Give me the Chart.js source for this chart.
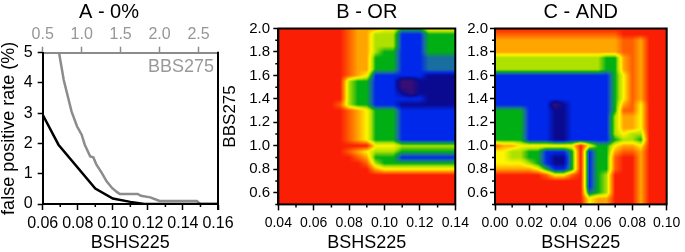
<!DOCTYPE html>
<html>
<head>
<meta charset="utf-8">
<script src="https://cdn.jsdelivr.net/npm/chart.js@4.4.1/dist/chart.umd.min.js"></script>
<style>
  html, body { margin: 0; padding: 0; background: #fff; }
  #wrap { position: relative; width: 685px; height: 252px; }
  #wrap canvas { position: absolute; left: 0; top: 0; }
</style>
</head>
<body>
<div id="wrap">
  <canvas id="fprChart" width="685" height="252"></canvas>
  <canvas id="orChart" width="685" height="252"></canvas>
  <canvas id="andChart" width="685" height="252"></canvas>
</div>
<script>
const FONT = "'Liberation Sans', Arial, Helvetica, sans-serif";
const GRAY = '#8c8c8c';

// A - false positive rate vs threshold
const bshsThreshold = [0.06, 0.069, 0.09, 0.10, 0.11, 0.118, 0.16];
const bshsFpr = [2.95, 1.96, 0.51, 0.18, 0.07, 0.0, 0.0];
const bbsThreshold = [0.71, 0.77, 0.87, 0.94, 1.00, 1.04, 1.11, 1.15, 1.19, 1.26, 1.32, 1.39,
  1.45, 1.49, 1.72, 1.76, 1.88, 1.96, 2.00, 2.48, 2.52, 2.75];
const bbsFpr = [5.0, 4.1, 3.06, 2.57, 2.29, 1.96, 1.57, 1.54, 1.3, 1.02, 0.75, 0.53,
  0.4, 0.33, 0.33, 0.27, 0.22, 0.14, 0.1, 0.1, 0.0, 0.0];

// B / C - heatmap grids, level 0 (dark) .. 9 (red)
const bbsNodes = [2.00, 1.95, 1.90, 1.85, 1.80, 1.75, 1.70, 1.65, 1.60, 1.55, 1.50, 1.45, 1.40,
  1.35, 1.30, 1.25, 1.20, 1.15, 1.10, 1.05, 1.00, 0.95, 0.90, 0.85, 0.80, 0.75, 0.70, 0.65,
  0.60, 0.55, 0.50];
const orBshs = [0.040, 0.045, 0.050, 0.055, 0.060, 0.065, 0.070, 0.075, 0.080, 0.085, 0.090,
  0.095, 0.100, 0.105, 0.110, 0.115, 0.120, 0.125, 0.130, 0.135, 0.140];
const orLevels = [
  '999999998777664446666',
  '999999998775552224444',
  '999999998775552224444',
  '999999998775552224444',
  '999999998775442224444',
  '999999998774442223333',
  '999999998774442223333',
  '999999998774442223333',
  '999999998762222221111',
  '999999995442220011111',
  '999999995442220011111',
  '999999995442221011111',
  '999999995442222221111',
  '999999985442221111111',
  '999999998764442222222',
  '999999998764442222222',
  '999999998764442222222',
  '999999998764442222222',
  '999999998764442222222',
  '999999998764442222222',
  '999999999996665555555',
  '999999998765554444444',
  '999999999874442222222',
  '999999999985444444444',
  '999999999997666666666',
  '999999999999999999999',
  '999999999999999999999',
  '999999999999999999999',
  '999999999999999999999',
  '999999999999999999999',
  '999999999999999999999'
];
const andBshs = [0.000, 0.005, 0.010, 0.015, 0.020, 0.025, 0.030, 0.035, 0.040, 0.045, 0.050,
  0.055, 0.060, 0.065, 0.070, 0.075, 0.080, 0.085, 0.090, 0.095, 0.100];
const andLevels = [
  '999999999999999999999',
  '888888888888888999999',
  '777777777777777887999',
  '777777777777777887999',
  '777777777777777887999',
  '555555555555544787999',
  '555555555555544787999',
  '555555555555544787999',
  '222222222222224687999',
  '222222222222224687999',
  '222222222222224687999',
  '222222222222224687999',
  '222222222222224687999',
  '222222201222224786999',
  '444422211222224886999',
  '444422211222225776999',
  '444422211222225776999',
  '444422211222225776999',
  '444422211222225655999',
  '444422211222224554999',
  '877666666696446776999',
  '665544222492447887999',
  '665544211492448997999',
  '666654211492448997999',
  '777776422492448997999',
  '999999866892459997999',
  '999999999992459997999',
  '999999999992459997999',
  '999999999993459997999',
  '999999999996779997999',
  '999999999996779997999'
];

const heatColors = [
  [55, 15, 115], [10, 10, 145], [0, 40, 235], [25, 110, 160], [0, 175, 20],
  [175, 225, 0], [255, 245, 0], [255, 165, 0], [255, 95, 0], [250, 30, 5]
];

function levelColor(v) {
  const i = Math.min(heatColors.length - 2, Math.floor(v));
  const t = v - i;
  const a = heatColors[i], b = heatColors[i + 1];
  return [a[0] + (b[0] - a[0]) * t, a[1] + (b[1] - a[1]) * t, a[2] + (b[2] - a[2]) * t];
}

function locate(nodes, v) {
  const n = nodes.length;
  const asc = nodes[n - 1] > nodes[0];
  for (let i = 0; i < n - 1; i++) {
    const a = nodes[i], b = nodes[i + 1];
    if ((asc && v <= b) || (!asc && v >= b)) {
      return i + Math.min(1, Math.max(0, (v - a) / (b - a)));
    }
  }
  return n - 1;
}

function makeHeatmap(xNodes, yNodes, rows) {
  const grid = rows.map(r => r.split('').map(Number));
  return {
    id: 'heatmap',
    beforeDatasetsDraw(chart) {
      const {ctx, chartArea: a, scales} = chart;
      const w = Math.round(a.right - a.left), h = Math.round(a.bottom - a.top);
      const off = document.createElement('canvas');
      off.width = w; off.height = h;
      const octx = off.getContext('2d');
      const img = octx.createImageData(w, h);
      const fx = [], fy = [];
      for (let px = 0; px < w; px++) fx.push(locate(xNodes, scales.x.getValueForPixel(a.left + px + 0.5)));
      for (let py = 0; py < h; py++) fy.push(locate(yNodes, scales.y.getValueForPixel(a.top + py + 0.5)));
      for (let py = 0; py < h; py++) {
        const j0 = Math.floor(fy[py]), j1 = Math.min(j0 + 1, yNodes.length - 1), ty = fy[py] - j0;
        for (let px = 0; px < w; px++) {
          const i0 = Math.floor(fx[px]), i1 = Math.min(i0 + 1, xNodes.length - 1), tx = fx[px] - i0;
          const top = grid[j0][i0] * (1 - tx) + grid[j0][i1] * tx;
          const bot = grid[j1][i0] * (1 - tx) + grid[j1][i1] * tx;
          const c = levelColor(top * (1 - ty) + bot * ty);
          const k = (py * w + px) * 4;
          img.data[k] = c[0]; img.data[k + 1] = c[1]; img.data[k + 2] = c[2]; img.data[k + 3] = 255;
        }
      }
      octx.putImageData(img, 0, 0);
      ctx.drawImage(off, a.left, a.top);
    }
  };
}

// frame lines, minor ticks and the inner BBS275 label
const framePlugin = {
  id: 'frame',
  afterDraw(chart, args, opts) {
    const {ctx, chartArea: a} = chart;
    ctx.save();
    ctx.strokeStyle = '#000';
    ctx.lineWidth = 2;
    if (opts.box) {
      ctx.strokeRect(a.left, a.top, a.right - a.left, a.bottom - a.top);
    } else {
      ctx.beginPath();
      ctx.moveTo(a.right, a.top - 1);
      ctx.lineTo(a.right, a.bottom + 6);
      ctx.stroke();
    }
    ctx.lineWidth = 1.5;
    (opts.minor || []).forEach(m => {
      const s = chart.scales[m.id];
      ctx.beginPath();
      for (let v = m.from; v < s.max + 1e-9; v += m.step) {
        const p = s.getPixelForValue(v);
        if (s.isHorizontal()) { ctx.moveTo(p, a.bottom); ctx.lineTo(p, a.bottom + 3); }
        else { ctx.moveTo(a.left - 3, p); ctx.lineTo(a.left, p); }
      }
      ctx.stroke();
    });
    if (opts.label) {
      ctx.fillStyle = '#999';
      ctx.font = '18px ' + FONT;
      ctx.textAlign = 'right';
      ctx.textBaseline = 'middle';
      ctx.fillText(opts.label, a.right - 4, a.top + 14);
    }
    ctx.restore();
  }
};

function fixWidth(w) { return scale => { scale.width = w; }; }
function fixHeight(h) { return scale => { scale.height = h; }; }

function titleOpts(text, fullSize, bottom) {
  return {
    display: true, text: text, color: '#000', fullSize: fullSize,
    font: { family: FONT, size: 20, weight: 'normal', lineHeight: 1.2 },
    padding: { top: 0, bottom: bottom }
  };
}

function axisTitle(text, size) {
  return { display: true, text: text, color: '#000',
    font: { family: FONT, size: size, lineHeight: 1 }, padding: { top: 0, bottom: 0 } };
}

// Panel A
new Chart(document.getElementById('fprChart'), {
  type: 'line',
  data: {
    datasets: [
      {
        label: 'BSHS225',
        data: bshsThreshold.map((x, i) => ({ x: x, y: bshsFpr[i] })),
        xAxisID: 'x', borderColor: '#000', borderWidth: 2.5, pointRadius: 0
      },
      {
        label: 'BBS275',
        data: bbsThreshold.map((x, i) => ({ x: x, y: bbsFpr[i] })),
        xAxisID: 'x2', borderColor: GRAY, borderWidth: 2.5, pointRadius: 0
      }
    ]
  },
  options: {
    responsive: false, animation: false, devicePixelRatio: 1,
    layout: { padding: { left: 0, right: 467, top: 0, bottom: 0 } },
    plugins: {
      legend: { display: false }, tooltip: { enabled: false },
      title: titleOpts('A - 0%', true, 0),
      frame: { box: false, label: 'BBS275', minor: [{ id: 'x', from: 0.07, step: 0.02 }] }
    },
    scales: {
      x: {
        type: 'linear', position: 'bottom', min: 0.06, max: 0.16, afterFit: fixHeight(48),
        border: { color: '#000', width: 2 },
        grid: { drawOnChartArea: false, tickLength: 6, tickColor: '#000', tickWidth: 1.5 },
        ticks: { stepSize: 0.02, padding: 4, color: '#000', maxRotation: 0, autoSkip: false,
          font: { family: FONT, size: 16 }, callback: v => v.toFixed(2) },
        title: axisTitle('BSHS225', 18)
      },
      x2: {
        type: 'linear', position: 'top', min: 0.5, max: 2.75, afterFit: fixHeight(28.7),
        border: { color: GRAY, width: 2 },
        grid: { drawOnChartArea: false, tickLength: 6, tickColor: GRAY, tickWidth: 1.5 },
        ticks: { stepSize: 0.5, includeBounds: false, padding: 3, color: '#969696', maxRotation: 0,
          font: { family: FONT, size: 16 }, callback: v => v.toFixed(1) }
      },
      y: {
        min: 0, max: 5, afterFit: fixWidth(42.7),
        border: { color: '#000', width: 2 },
        grid: { drawOnChartArea: false, tickLength: 5, tickColor: '#000', tickWidth: 1.5 },
        ticks: { stepSize: 1, padding: 5, color: '#000', font: { family: FONT, size: 16 } },
        title: axisTitle('false positive rate (%)', 18)
      }
    }
  },
  plugins: [framePlugin]
});

function heatOptions(title, xMin, xMax, pad, yWidth, yPad, yTitle) {
  return {
    responsive: false, animation: false, devicePixelRatio: 1,
    layout: { padding: pad },
    plugins: {
      legend: { display: false }, tooltip: { enabled: false },
      title: titleOpts(title, false, 4.5),
      frame: { box: true, minor: [{ id: 'x', from: xMin + 0.01, step: 0.02 }, { id: 'y', from: 0.5, step: 0.2 }] }
    },
    scales: {
      x: {
        type: 'linear', min: xMin, max: xMax, afterFit: fixHeight(47.6),
        border: { color: '#000', width: 2 },
        grid: { drawOnChartArea: false, tickLength: 6, tickColor: '#000', tickWidth: 1.5 },
        ticks: { stepSize: 0.02, padding: 4.7, color: '#000', maxRotation: 0, autoSkip: false,
          font: { family: FONT, size: 14 }, callback: v => v.toFixed(2) },
        title: axisTitle('BSHS225', 18)
      },
      y: {
        type: 'linear', min: 0.5, max: 2.0, afterFit: fixWidth(yWidth),
        border: { color: '#000', width: 2 },
        grid: { drawOnChartArea: false, tickLength: 5, tickColor: '#000', tickWidth: 1.5 },
        ticks: { stepSize: 0.2, includeBounds: false, padding: yPad, color: '#000', autoSkip: false,
          font: { family: FONT, size: 15 }, callback: v => v.toFixed(1) },
        title: yTitle ? Object.assign(axisTitle(yTitle, 17), { padding: { top: 1.5, bottom: 0 } }) : { display: false }
      }
    }
  };
}

// Panel B
new Chart(document.getElementById('orChart'), {
  type: 'scatter',
  data: { datasets: [] },
  options: heatOptions('B - OR', 0.04, 0.14, { left: 220, right: 229.7, top: 0, bottom: 0 }, 58.3, 3.3, 'BBS275'),
  plugins: [makeHeatmap(orBshs, bbsNodes, orLevels), framePlugin]
});

// Panel C
new Chart(document.getElementById('andChart'), {
  type: 'scatter',
  data: { datasets: [] },
  options: heatOptions('C - AND', 0.0, 0.10, { left: 460, right: 13.3, top: 0, bottom: 0 }, 35, 2, null),
  plugins: [makeHeatmap(andBshs, bbsNodes, andLevels), framePlugin]
});
</script>
</body>
</html>
